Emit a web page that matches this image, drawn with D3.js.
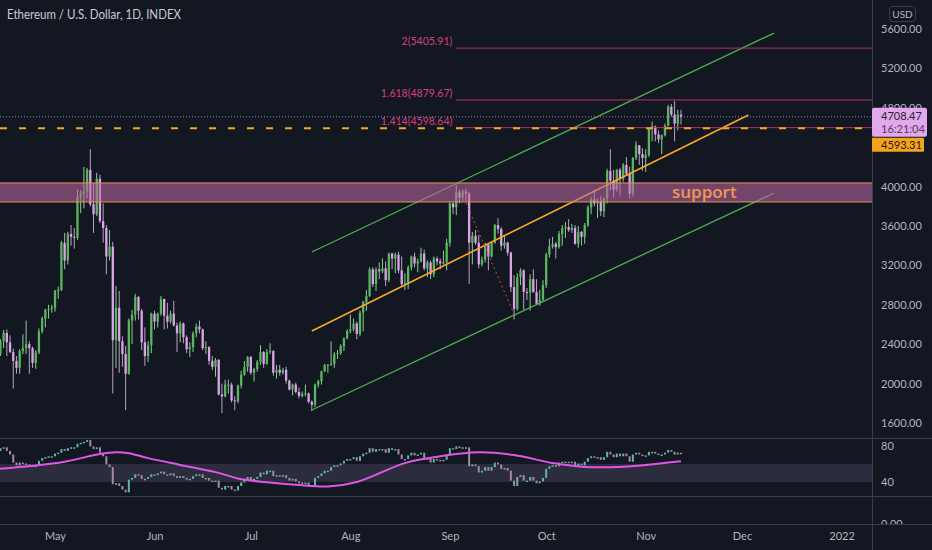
<!DOCTYPE html>
<html>
<head>
<meta charset="utf-8">
<script src="https://cdn.jsdelivr.net/npm/d3@7"></script>
<style>
body { margin: 0; background: #131722; }
svg { display: block; font-family: Lato, "Open Sans", sans-serif; }
</style>
</head>
<body>
<div id="chart"></div>
<script>
// daily candles [open, high, low, close], first row is 2021-04-13
const candlesApr = [
	[2140,2320,2130,2300],[2300,2450,2280,2430],[2430,2545,2360,2515],[2515,2550,2280,2420],[2420,2490,2310,2320],
	[2320,2355,1950,2230],[2230,2280,2100,2160],[2160,2350,2100,2330],[2330,2500,2300,2360],[2360,2640,2300,2400],
	[2400,2430,2100,2360],[2360,2375,2160,2210],[2210,2340,2150,2315],[2315,2560,2300,2530],[2530,2680,2510,2660],
	[2660,2760,2570,2750],[2750,2800,2660,2760],[2760,2800,2720,2770]
];
const candlesMay = [
	[2770,2950,2730,2945],[2945,2985,2860,2950],[2950,3450,2940,3430],[3430,3530,3160,3250],[3250,3540,3210,3520],
	[3520,3610,3400,3490],[3490,3580,3370,3480],[3480,3970,3460,3900],[3900,3960,3730,3930],[3930,4200,3780,3950],
	[3950,4190,3880,4170],[4170,4380,3800,3820],[3820,4030,3530,3720],[3720,4140,3700,4080],[4080,4120,3630,3650],
	[3650,3830,3430,3580],[3580,3610,3110,3290],[3290,3560,3250,3390],[3390,3440,1900,2440],[2440,2990,2160,2770],
	[2770,2940,2110,2430],[2430,2480,2170,2300],[2300,2380,1730,2100],[2100,2660,2090,2640],[2640,2750,2400,2700],
	[2700,2910,2640,2880],[2880,2890,2650,2740],[2740,2760,2340,2420],[2420,2570,2180,2280],[2280,2430,2220,2390],
	[2390,2720,2310,2710]
];
const candlesJun = [
	[2710,2740,2550,2630],[2630,2720,2570,2710],[2710,2890,2690,2860],[2860,2860,2550,2690],[2690,2820,2560,2630],
	[2630,2740,2610,2710],[2710,2840,2580,2590],[2590,2620,2320,2510],[2510,2630,2420,2610],[2610,2620,2410,2470],
	[2470,2490,2310,2350],[2350,2420,2270,2370],[2370,2530,2320,2510],[2510,2610,2470,2580],[2580,2640,2510,2550],
	[2550,2560,2340,2360],[2360,2430,2300,2370],[2370,2380,2190,2230],[2230,2280,2140,2170],[2170,2260,2070,2240],
	[2240,2250,1880,1890],[1890,2000,1700,1870],[1870,2040,1860,1990],[1990,2040,1900,1990],[1990,2010,1810,1830],
	[1830,1870,1730,1820],[1820,1990,1800,1980],[1980,2130,1950,2090],[2090,2230,2080,2170],[2170,2280,2120,2270]
];
const candlesJul = [
	[2270,2280,2090,2110],[2110,2160,2020,2150],[2150,2240,2120,2220],[2220,2390,2190,2320],[2320,2330,2160,2200],
	[2200,2350,2190,2320],[2320,2410,2300,2330],[2330,2340,2080,2110],[2110,2190,2050,2140],[2140,2190,2080,2110],
	[2110,2160,2090,2140],[2140,2170,2000,2030],[2030,2040,1930,1940],[1940,2000,1880,1990],[1990,2010,1900,1915],
	[1915,1960,1850,1875],[1875,1920,1860,1895],[1895,1990,1870,1900],[1900,1910,1800,1815],[1815,1830,1720,1785],
	[1785,2000,1760,1990],[1990,2040,1960,2025],[2025,2130,1990,2125],[2125,2200,2120,2185],[2185,2200,2110,2190],
	[2190,2430,2180,2200],[2200,2320,2160,2300],[2300,2340,2250,2310],[2310,2400,2290,2380],[2380,2470,2330,2460],
	[2460,2550,2450,2535]
];
const candlesAug = [
	[2535,2700,2510,2550],[2550,2660,2530,2610],[2610,2630,2450,2505],[2505,2740,2480,2720],[2720,2840,2530,2830],
	[2830,2950,2740,2890],[2890,3180,2880,3160],[3160,3180,2980,3010],[3010,3180,2940,3160],[3160,3230,3060,3140],
	[3140,3270,3120,3170],[3170,3240,2990,3050],[3050,3330,3030,3320],[3320,3330,3160,3270],[3270,3330,3120,3310],
	[3310,3340,3120,3150],[3150,3290,2980,3010],[3010,3120,2950,3020],[3020,3200,2960,3180],[3180,3300,3150,3290],
	[3290,3330,3180,3220],[3220,3270,3130,3240],[3240,3380,3230,3320],[3320,3360,3150,3170],[3170,3250,3080,3230],
	[3230,3250,3060,3110],[3110,3290,3080,3270],[3270,3290,3200,3240],[3240,3270,3160,3220],[3220,3350,3210,3230],
	[3230,3470,3150,3430]
];
const candlesSep = [
	[3430,3840,3390,3830],[3830,3840,3720,3790],[3790,4020,3710,3940],[3940,3970,3830,3890],[3890,3970,3850,3950],
	[3950,3980,3850,3930],[3930,3950,3010,3430],[3430,3540,3210,3500],[3500,3560,3410,3430],[3430,3510,3170,3210],
	[3210,3290,3190,3260],[3260,3430,3230,3410],[3410,3420,3150,3290],[3290,3440,3280,3430],[3430,3620,3420,3610],
	[3610,3680,3520,3570],[3570,3590,3350,3400],[3400,3500,3370,3430],[3430,3440,3300,3330],[3330,3340,2930,2980],
	[2980,3100,2650,2760],[2760,3120,2740,3080],[3080,3170,3000,3150],[3150,3160,2750,2930],[2930,2970,2850,2925],
	[2925,3110,2740,3060],[3060,3160,2920,2930],[2930,3060,2800,2810],[2810,2950,2790,2850],[2850,3050,2830,3000]
];
const candlesOct = [
	[3000,3330,2970,3310],[3310,3470,3280,3390],[3390,3490,3370,3420],[3420,3440,3270,3385],[3385,3550,3370,3520],
	[3520,3610,3400,3580],[3580,3640,3480,3590],[3590,3670,3540,3560],[3560,3620,3530,3580],[3580,3610,3410,3420],
	[3420,3600,3380,3540],[3540,3550,3400,3490],[3490,3630,3420,3610],[3610,3810,3590,3790],[3790,3890,3720,3870],
	[3870,3970,3800,3830],[3830,3880,3680,3850],[3850,3900,3700,3750],[3750,3890,3690,3880],[3880,4180,3830,4160],
	[4160,4380,3960,4060],[4060,4170,3890,3970],[3970,4180,3950,4170],[4170,4190,3910,4080],[4080,4240,4050,4220],
	[4220,4300,4110,4130],[4130,4200,3880,3930],[3930,4300,3900,4290],[4290,4460,4270,4420],[4420,4420,4220,4330],
	[4330,4390,4160,4290]
];
const candlesNov = [
	[4290,4380,4150,4320],[4320,4600,4300,4590],[4590,4660,4460,4610],[4610,4620,4460,4530],[4530,4570,4440,4480],
	[4480,4530,4330,4520],[4520,4640,4510,4620],[4620,4830,4610,4810],[4810,4840,4710,4730],[4730,4870,4460,4640],
	[4640,4780,4570,4730],[4730,4780,4630,4708.47]
];

// oscillator in the lower pane, one value a day from 2021-04-13
const oscApr = [74,77,78,74,70, 61,58,61,60,59, 58,56,58,63,66, 67,68,68];
const oscMay = [71,72,76,74,77, 78,78,82,83,84, 86,79,76,78,72, 68,59,56,37,38, 35,31,28,42,44, 48,47,43,43,45, 48];
const oscJun = [47,49,51,48,47, 49,46,44,46,44, 42,43,46,48,48, 44,44,41,40,41, 33,31,35,35,31, 30,35,39,42,45];
const oscJul = [41,43,45,50,48, 52,52,46,47,46, 47,44,41,43,40, 38,39,39,36,34, 44,46,49,52,52, 56,58,58,60,63, 65];
const oscAug = [65,67,63,68,71, 72,77,73,76,75, 76,72,77,75,76, 70,65,65,69,72, 69,70,72,64,66, 61,65,64,63,64, 70];
const oscSep = [77,76,79,77,78, 78,57,59,57,50, 52,56,52,56,61, 59,54,55,52,41, 35,45,47,41,41, 45,41,38,40,44];
const oscOct = [54,57,58,57,61, 62,62,61,62,56, 60,58,62,66,68, 67,67,64,67,73, 70,67,71,68,71, 68,62,70,72,70, 69];
const oscNov = [69,73,73,71,70, 70,72,75,73,70, 72,71];

// slow average of the oscillator, read at these dates
const oscAvgDates = ['2021-04-13','2021-04-24','2021-05-04','2021-05-15','2021-05-20','2021-05-24','2021-05-30',
	'2021-06-09','2021-06-20','2021-06-27','2021-07-05','2021-07-15','2021-07-25','2021-08-03','2021-08-18',
	'2021-08-28','2021-09-10','2021-09-21','2021-10-03','2021-10-12','2021-10-25','2021-11-04','2021-11-12'];
const oscAvgValues = [54.4,58,62.6,71,73,72,66.5, 59,51,44,40,37,35,40,61, 68,73,70,61,57,57,60,63];

// drawings
const channelUpper = [['2021-07-20', 3336], ['2021-12-11', 5559]];
const channelMid = [['2021-07-20', 2534], ['2021-12-03', 4727]];
const channelLower = [['2021-07-20', 1732], ['2021-12-11', 3935]];
const dropLine = [['2021-09-06', 3834], ['2021-09-21', 2706]];
const fibStart = '2021-09-03';
const fibRatios = ['2', '1.618', '1.414'];
const fibPrices = [5405.91, 4879.67, 4598.64];
const supportZone = [3844, 4037];
const lastPrice = 4708.47;
const lastTime = '16:21:04';
const linePrice = 4593.31;

const priceTicks = [1600, 2000, 2400, 2800, 3200, 3600, 4000, 4400, 4800, 5200, 5600];
const oscTicks = [40, 80];
const monthTicks = ['2021-05-01','2021-06-01','2021-07-01','2021-08-01','2021-09-01','2021-10-01','2021-11-01','2021-12-01','2022-01-01'];

const W = 932, H = 550, plotRight = 872;
const parse = d3.utcParse('%Y-%m-%d');
const firstDay = parse('2021-04-13');

const candles = [...candlesApr, ...candlesMay, ...candlesJun, ...candlesJul, ...candlesAug, ...candlesSep, ...candlesOct, ...candlesNov]
	.map((c, i) => ({ date: d3.utcDay.offset(firstDay, i), o: c[0], h: c[1], l: c[2], c: c[3] }));
const osc = [...oscApr, ...oscMay, ...oscJun, ...oscJul, ...oscAug, ...oscSep, ...oscOct, ...oscNov]
	.map((v, i, arr) => ({ date: d3.utcDay.offset(firstDay, i), prev: i ? arr[i - 1] : v, v: v }));

const x = d3.scaleUtc().domain([parse('2021-05-01'), parse('2021-12-01')]).range([55, 742]);
const y = d3.scaleLinear().domain([1600, 5600]).range([423, 29]);
const yOsc = d3.scaleLinear().domain([40, 80]).range([482, 446]);

const tagTop = y(lastPrice) - 9;
const tagBottom = tagTop + 44;

const svg = d3.select('#chart').append('svg').attr('width', W).attr('height', H);
svg.append('rect').attr('width', W).attr('height', H).attr('fill', '#131722');

const defs = svg.append('defs');
defs.append('clipPath').attr('id', 'clipMain').append('rect').attr('width', plotRight).attr('height', 438);
defs.append('clipPath').attr('id', 'clipOsc').append('rect').attr('y', 439).attr('width', plotRight).attr('height', 57);
defs.append('clipPath').attr('id', 'clipZero').append('rect').attr('y', 500).attr('width', W).attr('height', 24);

svg.append('text')
	.attr('x', 7).attr('y', 19)
	.attr('fill', '#c9ccd4').attr('font-size', 12.5)
	.attr('textLength', 174).attr('lengthAdjust', 'spacingAndGlyphs')
	.text('Ethereum / U.S. Dollar, 1D, INDEX');

const main = svg.append('g').attr('clip-path', 'url(#clipMain)');

// candles
const candleW = 2.3;
const isUp = (d) => d.c >= d.o;
main.append('g').selectAll('line')
	.data(candles).join('line')
	.attr('x1', (d) => x(d.date)).attr('x2', (d) => x(d.date))
	.attr('y1', (d) => y(d.h)).attr('y2', (d) => y(d.l))
	.attr('stroke', (d) => isUp(d) ? '#8ccf8f' : '#b9a3c4')
	.attr('stroke-width', 1);
main.append('g').selectAll('rect')
	.data(candles).join('rect')
	.attr('x', (d) => x(d.date) - candleW / 2).attr('width', candleW)
	.attr('y', (d) => y(Math.max(d.o, d.c)))
	.attr('height', (d) => Math.max(1, Math.abs(y(d.o) - y(d.c))))
	.attr('fill', (d) => isUp(d) ? '#58b65e' : '#dca4e6');

// trend channel
const seg = d3.line().x((d) => x(parse(d[0]))).y((d) => y(d[1]));
main.append('path').attr('d', seg(channelUpper)).attr('stroke', '#4caf50').attr('stroke-width', 1.3).attr('fill', 'none');
main.append('path').attr('d', seg(channelLower)).attr('stroke', '#4caf50').attr('stroke-width', 1.3).attr('fill', 'none');
main.append('path').attr('d', seg(channelMid)).attr('stroke', '#ffa726').attr('stroke-width', 1.6).attr('fill', 'none');
main.append('path').attr('d', seg(dropLine)).attr('stroke', '#e0414f').attr('stroke-width', 1)
	.attr('stroke-dasharray', '2,3').attr('fill', 'none');

// fib extension levels
const fibX = x(parse(fibStart));
main.append('g').selectAll('line')
	.data(fibPrices).join('line')
	.attr('x1', fibX).attr('x2', plotRight)
	.attr('y1', (d) => y(d)).attr('y2', (d) => y(d))
	.attr('stroke', '#b8326a').attr('stroke-width', 1);
main.append('g').selectAll('text')
	.data(fibPrices).join('text')
	.attr('x', fibX - 4).attr('y', (d) => y(d) - 3)
	.attr('text-anchor', 'end').attr('font-size', 10.5)
	.attr('fill', '#d43f7c')
	.text((d, i) => fibRatios[i] + '(' + d3.format('.2f')(d) + ')');

// price lines
main.append('line')
	.attr('x1', 0).attr('x2', plotRight).attr('y1', y(lastPrice)).attr('y2', y(lastPrice))
	.attr('stroke', '#8d909a').attr('stroke-width', 1).attr('stroke-dasharray', '1,2');
main.append('line')
	.attr('x1', 0).attr('x2', plotRight).attr('y1', y(linePrice)).attr('y2', y(linePrice))
	.attr('stroke', '#f5a623').attr('stroke-width', 2).attr('stroke-dasharray', '7,12');

// support zone
main.append('rect')
	.attr('x', 0).attr('width', plotRight)
	.attr('y', y(supportZone[1])).attr('height', y(supportZone[0]) - y(supportZone[1]))
	.attr('fill', 'rgba(186,104,160,0.58)');
main.selectAll('.zoneEdge')
	.data(supportZone).join('line')
	.attr('class', 'zoneEdge')
	.attr('x1', 0).attr('x2', plotRight)
	.attr('y1', (d) => y(d)).attr('y2', (d) => y(d))
	.attr('stroke', '#e8935a').attr('stroke-width', 1);
main.append('text')
	.attr('x', 672).attr('y', y(d3.mean(supportZone)) + 6)
	.attr('font-family', '"Open Sans", sans-serif').attr('font-size', 17).attr('font-weight', 600)
	.attr('fill', '#f39652')
	.text('support');

// oscillator pane
const oscG = svg.append('g').attr('clip-path', 'url(#clipOsc)');
oscG.append('rect')
	.attr('x', 0).attr('width', plotRight)
	.attr('y', yOsc(60)).attr('height', yOsc(40) - yOsc(60))
	.attr('fill', 'rgba(130,125,160,0.22)');
oscG.append('g').selectAll('rect')
	.data(osc).join('rect')
	.attr('x', (d) => x(d.date) - 1).attr('width', 2)
	.attr('y', (d) => yOsc(Math.max(d.prev, d.v)) - 0.5)
	.attr('height', (d) => Math.max(1.5, Math.abs(yOsc(d.prev) - yOsc(d.v))))
	.attr('fill', (d) => d.v >= d.prev ? '#66b5ab' : '#a688ab');
oscG.append('path')
	.datum(oscAvgDates.map((d, i) => [parse(d), oscAvgValues[i]]))
	.attr('d', d3.line().x((d) => x(d[0])).y((d) => yOsc(d[1])).curve(d3.curveCatmullRom))
	.attr('stroke', '#e255e8').attr('stroke-width', 2).attr('fill', 'none');

// pane separators
svg.selectAll('.sep')
	.data([438.5, 496.5, 524.5]).join('line')
	.attr('class', 'sep')
	.attr('x1', 0).attr('x2', W).attr('y1', (d) => d).attr('y2', (d) => d)
	.attr('stroke', '#3a3e49');
svg.append('line')
	.attr('x1', plotRight + 0.5).attr('x2', plotRight + 0.5).attr('y1', 0).attr('y2', H)
	.attr('stroke', '#3a3e49');

// right axes
const styleAxis = (g) => {
	g.select('.domain').remove();
	g.selectAll('text').attr('fill', '#b2b5be').attr('font-size', 11).attr('font-family', 'Lato, sans-serif');
};
// labels that sit wholly under the price tags are not drawn
const shownTicks = priceTicks.filter((t) => y(t) - 4 < tagTop || y(t) - 4 > tagBottom);
svg.append('g')
	.attr('transform', 'translate(' + plotRight + ',0)')
	.call(d3.axisRight(y).tickValues(shownTicks).tickSize(0).tickPadding(9).tickFormat(d3.format('.2f')))
	.call(styleAxis);
svg.append('g')
	.attr('transform', 'translate(' + plotRight + ',0)')
	.call(d3.axisRight(yOsc).tickValues(oscTicks).tickSize(0).tickPadding(9).tickFormat(d3.format('d')))
	.call(styleAxis);
svg.append('text')
	.attr('clip-path', 'url(#clipZero)')
	.attr('x', plotRight + 9).attr('y', 528)
	.attr('fill', '#b2b5be').attr('font-size', 11)
	.text('0.00');

// time axis
svg.append('g')
	.attr('transform', 'translate(0,525)')
	.call(d3.axisBottom(x)
		.tickValues(monthTicks.map(parse))
		.tickSize(0).tickPadding(7)
		.tickFormat((d) => d.getUTCMonth() === 0 ? d3.utcFormat('%Y')(d) : d3.utcFormat('%b')(d)))
	.call(styleAxis);

// currency badge
svg.append('rect')
	.attr('x', 889.5).attr('y', 6.5).attr('width', 26).attr('height', 15).attr('rx', 3)
	.attr('fill', 'none').attr('stroke', '#3a3e49');
svg.append('text')
	.attr('x', 902.5).attr('y', 18)
	.attr('text-anchor', 'middle').attr('fill', '#b2b5be').attr('font-size', 10)
	.text('USD');

// price tags
svg.append('rect')
	.attr('x', plotRight).attr('y', tagTop).attr('width', 55).attr('height', 29).attr('rx', 2)
	.attr('fill', '#e1a8ec');
svg.append('text')
	.attr('x', plotRight + 9).attr('y', tagTop + 12)
	.attr('fill', '#2d1d37').attr('font-size', 11)
	.text(d3.format('.2f')(lastPrice));
svg.append('text')
	.attr('x', plotRight + 9).attr('y', tagTop + 25)
	.attr('fill', '#573a63').attr('font-size', 11)
	.text(lastTime);
svg.append('rect')
	.attr('x', plotRight).attr('y', tagTop + 30).attr('width', 52).attr('height', 14).attr('rx', 1)
	.attr('fill', '#f6a31c');
svg.append('text')
	.attr('x', plotRight + 9).attr('y', tagTop + 41)
	.attr('fill', '#1b1b1b').attr('font-size', 11)
	.text(d3.format('.2f')(linePrice));
</script>
</body>
</html>
